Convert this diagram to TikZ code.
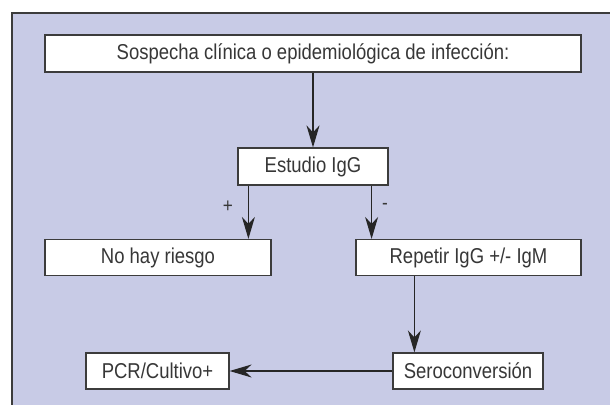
\documentclass[tikz,border=0pt]{standalone}
\usepackage{fontspec}
\setmainfont[FakeStretch=0.86]{Liberation Sans}
\usetikzlibrary{arrows.meta,calc}
\definecolor{panelfill}{RGB}{200,203,230}
\definecolor{edge}{RGB}{60,60,60}
\definecolor{txt}{RGB}{55,55,55}
\tikzset{
  box/.style={draw=edge, line width=1.2pt, fill=white, inner sep=0pt, text=txt,
    font=\fontsize{21.5}{24}\selectfont},
  conn/.style={draw=black!85, line width=1.2pt,
    -{Stealth[length=22pt,width=13pt,inset=7pt]}},
  sign/.style={text=txt, font=\fontsize{20}{22}\selectfont, inner sep=0pt}
}
\begin{document}
\begin{tikzpicture}[x=1pt,y=-1pt]
\useasboundingbox (0,0) rectangle (610,404);
\fill[panelfill] (12,13) rectangle (620,420);
\draw[edge, line width=1.3pt] (12,420) -- (12,13) -- (620,13);
\node[box, minimum width=536pt, minimum height=37pt] (top) at (313,53.5) {Sospecha clínica o epidemiológica de infección:};
\node[box, minimum width=150pt, minimum height=37pt] (est) at (313,166.5) {Estudio IgG};
\node[box, minimum width=226pt, minimum height=36pt] (nohay) at (158,257.5) {No hay riesgo};
\node[box, minimum width=225pt, minimum height=36pt] (rep) at (468.5,257.5) {Repetir IgG +/- IgM};
\node[box, minimum width=143pt, minimum height=36pt] (pcr) at (157.5,371) {PCR/Cultivo+};
\node[box, minimum width=150pt, minimum height=36pt] (sero) at (468,371) {Seroconversión};
\draw[conn] (top.south) -- (est.north);
\coordinate (l1) at ([xshift=11pt]est.south west);
\coordinate (r1) at ([xshift=-17pt]est.south east);
\draw[conn] (l1) -- (l1 |- nohay.north);
\draw[conn] (r1) -- (r1 |- rep.north);
\coordinate (d1) at ([xshift=59pt]rep.south west);
\draw[conn] (d1) -- (d1 |- sero.north);
\draw[conn] (sero.west) -- (pcr.east);
\node[sign] (plus) at (228,207) {+};
\node[sign] (minus) at (385,206) {-};
\end{tikzpicture}
\end{document}
